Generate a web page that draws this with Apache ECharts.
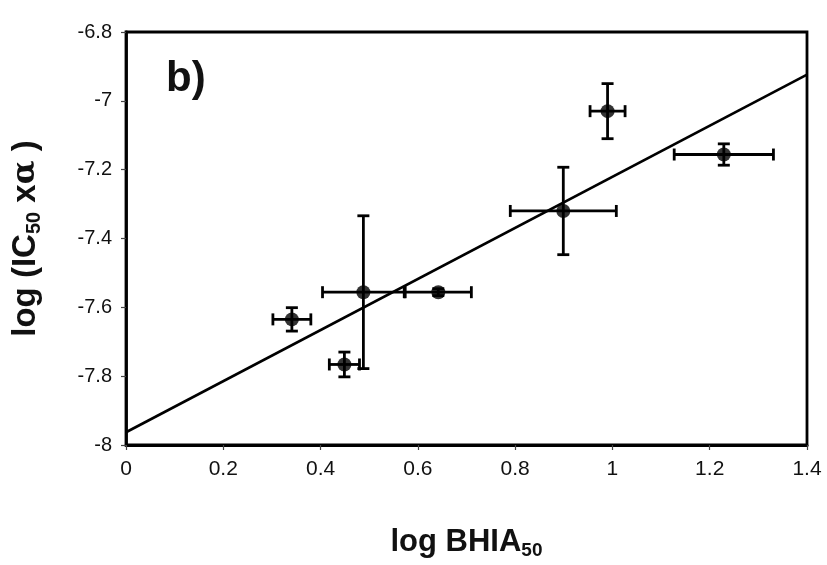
<!DOCTYPE html>
<html>
<head>
<meta charset="utf-8">
<script src="https://cdn.jsdelivr.net/npm/echarts@6/dist/echarts.min.js"></script>
<style>
  html, body { margin: 0; padding: 0; background: #fff; }
  #chart { width: 827px; height: 565px; }
</style>
</head>
<body>
<div id="chart"></div>
<script>
// Measured points: log BHIA50 (x) vs log(IC50 x alpha) (y), with symmetric error bars
const xVals = [0.341, 0.449, 0.488, 0.642, 0.899, 0.990, 1.229];
const yVals = [-7.635, -7.766, -7.556, -7.556, -7.320, -7.030, -7.156];
const xErr  = [0.039, 0.031, 0.084, 0.068, 0.109, 0.036, 0.102];
const yErr  = [0.034, 0.036, 0.222, 0.010, 0.127, 0.080, 0.031];

// Linear fit endpoints
const fitLine = [[0, -7.963], [1.4, -6.924]];

// Axis ticks
const xTicks = [0, 0.2, 0.4, 0.6, 0.8, 1, 1.2, 1.4];
const yTicks = [-8, -7.8, -7.6, -7.4, -7.2, -7, -6.8];

const FONT = '"Liberation Sans", Arial, sans-serif';

const points = xVals.map((x, i) => [x, yVals[i], xErr[i], yErr[i]]);

const chart = echarts.init(document.getElementById('chart'), null, { renderer: 'canvas' });

function errorBars(params, api) {
  const x = api.value(0), y = api.value(1), ex = api.value(2), ey = api.value(3);
  const c = api.coord([x, y]);
  const l = api.coord([x - ex, y]);
  const r = api.coord([x + ex, y]);
  const t = api.coord([x, y + ey]);
  const b = api.coord([x, y - ey]);
  const cap = 6;
  const style = { stroke: '#000', lineWidth: 2.8, fill: null };
  return {
    type: 'group',
    children: [
      { type: 'line', shape: { x1: l[0], y1: c[1], x2: r[0], y2: c[1] }, style },
      { type: 'line', shape: { x1: l[0], y1: c[1] - cap, x2: l[0], y2: c[1] + cap }, style },
      { type: 'line', shape: { x1: r[0], y1: c[1] - cap, x2: r[0], y2: c[1] + cap }, style },
      { type: 'line', shape: { x1: c[0], y1: t[1], x2: c[0], y2: b[1] }, style },
      { type: 'line', shape: { x1: c[0] - cap, y1: t[1], x2: c[0] + cap, y2: t[1] }, style },
      { type: 'line', shape: { x1: c[0] - cap, y1: b[1], x2: c[0] + cap, y2: b[1] }, style }
    ]
  };
}

chart.setOption({
  animation: false,
  backgroundColor: '#fff',
  grid: { left: 126, top: 32, right: 20, bottom: 118, show: true, borderColor: '#000', borderWidth: 2.8 },
  xAxis: {
    type: 'value', min: 0, max: 1.4, interval: 0.2,
    name: 'log BHIA{s|50}',
    nameLocation: 'middle', nameGap: 80,
    nameTextStyle: {
      fontFamily: FONT, fontSize: 31, fontWeight: 'bold', color: '#111',
      rich: { s: { fontFamily: FONT, fontSize: 19, fontWeight: 'bold', color: '#111', verticalAlign: 'bottom', padding: [16, 0, 0, 0] } }
    },
    axisLine: { show: true, onZero: false, lineStyle: { color: '#000', width: 2.8 } },
    axisTick: { show: true, length: 5, lineStyle: { color: '#444', width: 1.2 } },
    splitLine: { show: false },
    axisLabel: {
      margin: 14, fontFamily: FONT, fontSize: 21, color: '#111',
      formatter: v => xTicks.includes(+v.toFixed(1)) ? String(+v.toFixed(1)) : ''
    }
  },
  yAxis: {
    type: 'value', min: -8, max: -6.8, interval: 0.2,
    name: 'log (IC{s|50} x{a|α} )',
    nameLocation: 'middle', nameGap: 82, nameRotate: 90,
    nameTextStyle: {
      fontFamily: FONT, fontSize: 33, fontWeight: 'bold', color: '#111',
      rich: {
        s: { fontFamily: FONT, fontSize: 20, fontWeight: 'bold', color: '#111', verticalAlign: 'bottom', padding: [16, 0, 0, 0] },
        a: { fontFamily: '"DejaVu Serif", serif', fontSize: 31, color: '#111' }
      }
    },
    axisLine: { show: true, onZero: false, lineStyle: { color: '#000', width: 2.8 } },
    axisTick: { show: true, length: 5, lineStyle: { color: '#444', width: 1.2 } },
    splitLine: { show: false },
    axisLabel: {
      margin: 14, fontFamily: FONT, fontSize: 20, color: '#111',
      formatter: v => {
        const r = +v.toFixed(1);
        return yTicks.includes(r) ? String(r) : '';
      }
    }
  },
  graphic: [
    { type: 'text', left: 166, top: 58, style: { text: 'b)', font: 'bold 42px ' + FONT, fill: '#111' } }
  ],
  series: [
    {
      type: 'line', data: fitLine, symbol: 'none',
      lineStyle: { color: '#000', width: 2.6 }, z: 2
    },
    {
      type: 'custom', data: points, renderItem: errorBars,
      encode: { x: 0, y: 1 }, z: 3
    },
    {
      type: 'scatter', data: points.map(p => [p[0], p[1]]),
      symbol: 'circle', symbolSize: 14,
      itemStyle: { color: '#000' }, z: 4
    }
  ]
});
</script>
</body>
</html>
